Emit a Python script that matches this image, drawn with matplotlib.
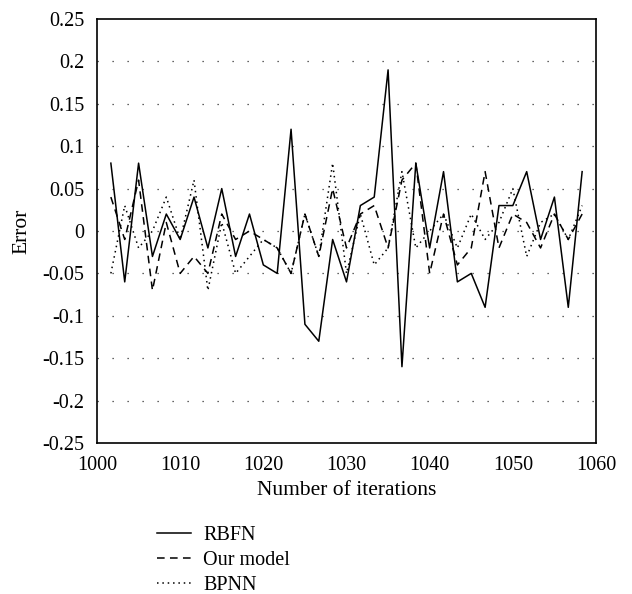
import numpy as np
import matplotlib
matplotlib.use("Agg")
import matplotlib.pyplot as plt

plt.rcParams['font.family'] = ['Liberation Serif', 'DejaVu Serif']
plt.rcParams['axes.unicode_minus'] = False

# iterations: 35 evenly spaced samples between 1000 and 1060
iterations = 1000 + np.arange(1, 36) * 60 / 36

rbfn = [0.08, -0.06, 0.08, -0.03, 0.02, -0.01, 0.04, -0.02, 0.05, -0.03,
        0.02, -0.04, -0.05, 0.12, -0.11, -0.13, -0.01, -0.06, 0.03, 0.04,
        0.19, -0.16, 0.08, -0.02, 0.07, -0.06, -0.05, -0.09, 0.03, 0.03,
        0.07, -0.01, 0.04, -0.09, 0.07]

our_model = [0.04, -0.01, 0.06, -0.07, 0.01, -0.05, -0.03, -0.05, 0.02, -0.01,
             0.0, -0.01, -0.02, -0.05, 0.02, -0.03, 0.05, -0.02, 0.02, 0.03,
             -0.02, 0.06, 0.08, -0.05, 0.02, -0.04, -0.02, 0.07, -0.02, 0.02,
             0.01, -0.02, 0.02, -0.01, 0.02]

bpnn = [-0.05, 0.03, -0.02, 0.0, 0.04, -0.01, 0.06, -0.07, 0.01, -0.05,
        -0.03, -0.01, -0.02, -0.05, 0.02, -0.03, 0.08, -0.05, 0.02, -0.04,
        -0.02, 0.07, -0.02, 0.0, 0.02, -0.02, 0.02, -0.01, 0.01, 0.05,
        -0.03, 0.01, 0.02, -0.01, 0.03]

y_ticks = [0.25, 0.2, 0.15, 0.1, 0.05, 0, -0.05, -0.1, -0.15, -0.2, -0.25]
y_tick_labels = ["0.25", "0.2", "0.15", "0.1", "0.05", "0", "-0.05", "-0.1", "-0.15", "-0.2", "-0.25"]
x_ticks = [1000, 1010, 1020, 1030, 1040, 1050, 1060]

fig = plt.figure(figsize=(6.32, 5.94), dpi=100)
ax = fig.add_axes([97/632, 1 - 443/594, (596-97)/632, (443-19)/594])

l1, = ax.plot(iterations, rbfn, color='black', lw=1.1, linestyle='-', label='RBFN')
l2, = ax.plot(iterations, our_model, color='black', lw=1.1, linestyle=(0, (5, 3.5)), label='Our model')
l3, = ax.plot(iterations, bpnn, color='black', lw=1.1, linestyle=(0, (1, 2.5)), label='BPNN')

ax.set_xlim(1000, 1060)
ax.set_ylim(-0.25, 0.25)
ax.set_yticks(y_ticks)
ax.set_yticklabels(y_tick_labels)
ax.set_xticks(x_ticks)
ax.set_xticklabels([str(t) for t in x_ticks])
ax.tick_params(length=0, labelsize=14.5)
ax.tick_params(axis='y', pad=9)
ax.tick_params(axis='x', pad=9)

for yv in y_ticks[1:-1]:
    ax.axhline(yv, color='#333333', lw=0.9, linestyle=(0, (1, 11)), zorder=0)

for s in ax.spines.values():
    s.set_linewidth(1.2)

ax.set_xlabel('Number of iterations', fontsize=15.5, labelpad=5)
ax.set_ylabel('Error', fontsize=15.5, labelpad=8)

fig.legend(handles=[l1, l2, l3], loc='upper left', bbox_to_anchor=(157/632, 1 - 526/594),
           frameon=False, fontsize=14.5, handlelength=1.7, handletextpad=0.6, labelspacing=0.28,
           borderaxespad=0, borderpad=0)

fig.savefig('out.png', dpi=100)
